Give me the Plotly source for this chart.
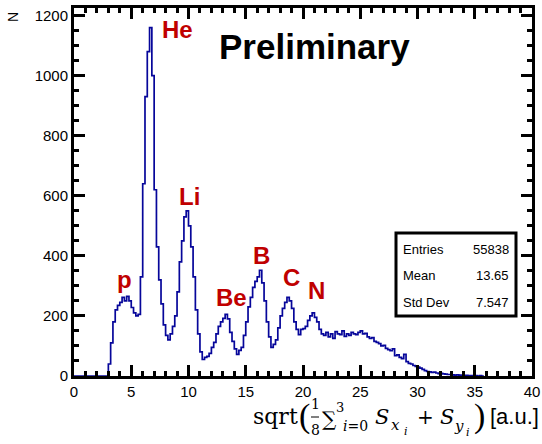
import numpy as np
import plotly.graph_objects as go

# ---- data ----
bin_width = 0.2
first_edge = 2.8
counts = [0, 40, 110, 180, 220, 235, 245, 262, 250, 265, 250, 228, 210, 200, 205,
          330, 640, 930, 1080, 1160, 1000, 620, 430, 320, 240, 170, 135, 120, 140,
          165, 200, 280, 380, 450, 530, 550, 500, 430, 330, 220, 140, 80, 55, 62,
          65, 75, 95, 112, 140, 165, 180, 192, 205, 190, 145, 115, 90, 72, 85, 95,
          135, 180, 230, 262, 295, 315, 330, 352, 310, 250, 180, 130, 95, 105, 120,
          160, 200, 225, 245, 262, 250, 225, 180, 155, 138, 155, 158, 165, 185, 200,
          210, 195, 180, 155, 140, 135, 145, 130, 140, 125, 148, 140, 138, 150, 132,
          140, 135, 145, 140, 138, 145, 150, 140, 142, 130, 125, 128, 115, 112, 108,
          100, 102, 92, 88, 84, 90, 68, 70, 62, 58, 72, 48, 42, 40, 35, 32, 30, 26,
          22, 18, 15, 14, 12, 13, 10, 8, 9, 7, 6, 5, 5, 4, 3, 4, 3, 2, 2, 2, 1, 1,
          1, 1, 0, 1, 0]

labels = ["p", "He", "Li", "Be", "B", "C", "N"]
label_x = [4.37, 9.0, 10.09, 13.76, 16.38, 19.0, 21.18]
label_y = [322, 1152, 599, 261, 400, 328, 285]

stats_names = ["Entries", "Mean", "Std Dev"]
stats_values = ["55838", "13.65", "7.547"]

x_range = [0, 40]
y_range = [0, 1225]

# ---- build step outline ----
edges = first_edge + bin_width * np.arange(len(counts) + 1)
xs = [0.0] + list(edges)
ys = [0] + list(counts) + [counts[-1]]

fig = go.Figure()
fig.add_trace(go.Scatter(x=xs, y=ys, mode="lines", line_shape="hv",
                         line=dict(color="#06069a", width=1.7),
                         hoverinfo="skip", showlegend=False))

L, R, T, B = 74, 10, 8, 68
W, H = 542, 444
pw, ph = W - L - R, H - T - B


def px2paper(px, py):
    return (px - L) / pw, (H - B - py) / ph


SANS = "Liberation Sans, Arial"
SERIF = "DejaVu Serif"

axis_common = dict(showline=True, linewidth=3, linecolor="black", mirror="allticks",
                   ticks="inside", tickwidth=3, tickcolor="black", showgrid=False,
                   zeroline=False,
                   tickfont=dict(family=SANS, size=15, color="black"))

fig.update_xaxes(range=x_range, dtick=5, ticklen=11,
                 minor=dict(dtick=1, ticks="inside", ticklen=5, tickwidth=3,
                            tickcolor="black", showgrid=False),
                 **axis_common)
fig.update_yaxes(range=y_range, dtick=200, ticklen=11,
                 minor=dict(dtick=50, ticks="inside", ticklen=5, tickwidth=3,
                            tickcolor="black", showgrid=False),
                 **axis_common)

annotations = []
for t, lx, ly in zip(labels, label_x, label_y):
    annotations.append(dict(x=lx, y=ly, xref="x", yref="y", text="<b>%s</b>" % t,
                            showarrow=False, xanchor="center", yanchor="middle",
                            font=dict(family=SANS, size=24, color="#c00000")))


def ptext(text, px, py, size, family=SANS, xanchor="center", angle=0):
    xp, yp = px2paper(px, py)
    annotations.append(dict(x=xp, y=yp, xref="paper", yref="paper", text=text,
                            showarrow=False, xanchor=xanchor, yanchor="middle",
                            textangle=angle,
                            font=dict(family=family, size=size, color="black")))


ptext("<b>Preliminary</b>", 314, 46, 35)
ptext("N", 13, 17, 14, angle=-90)

# x-axis title, pieced together
ptext("sqrt", 275.5, 417, 22, SERIF)
ptext("(", 304, 416, 34, "Liberation Serif")
ptext("1", 315, 404, 14, SERIF)
ptext("8", 315, 430, 14, SERIF)
ptext("∑", 329.5, 419, 20, SERIF)
ptext("3", 340, 407, 13, SERIF)
ptext("<i>i</i>=0", 355, 426, 14, SERIF)
ptext("<i>S</i>", 381.5, 417, 21, SERIF)
ptext("<i>x</i>", 395, 425, 15, SERIF)
ptext("<i>i</i>", 406, 431, 11, SERIF)
ptext("+", 425.5, 417, 20, SERIF)
ptext("<i>S</i>", 446.5, 417, 21, SERIF)
ptext("<i>y</i>", 459, 426, 15, SERIF)
ptext("<i>i</i>", 468, 432, 11, SERIF)
ptext(")", 479, 416, 34, "Liberation Serif")
ptext("[a.u.]", 514, 417, 22, SANS)

fb0x, fby = px2paper(311, 417)
fb1x, _ = px2paper(319, 417)
shapes = [dict(type="line", xref="paper", yref="paper", x0=fb0x, x1=fb1x, y0=fby,
               y1=fby, line=dict(color="black", width=1))]

# stats box
bx0, by0, bx1, by1 = 396, 233, 516, 316
x0p, y1p = px2paper(bx0, by0)
x1p, y0p = px2paper(bx1, by1)
shapes.append(dict(type="rect", xref="paper", yref="paper", x0=x0p, x1=x1p, y0=y0p,
                   y1=y1p, line=dict(color="black", width=3), fillcolor="white",
                   layer="above"))
row_y = [249, 275, 302]
for name, val, ry in zip(stats_names, stats_values, row_y):
    ptext(name, 401, ry, 13, xanchor="left")
    ptext(val, 511, ry, 13, xanchor="right")

fig.update_layout(width=W, height=H,
                  margin=dict(l=L, r=R, t=T, b=B, autoexpand=False),
                  paper_bgcolor="white", plot_bgcolor="white",
                  annotations=annotations, shapes=shapes, showlegend=False)

fig.write_html("out.html", config={"displayModeBar": False},
               post_script="document.body.style.margin='0';"
                           "document.body.style.overflow='hidden';")
